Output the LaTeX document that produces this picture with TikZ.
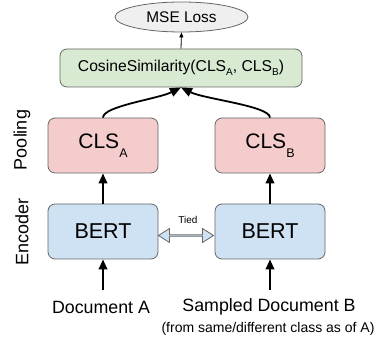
\documentclass[tikz,border=0pt]{standalone}
\usepackage{fontspec}
\setmainfont{Liberation Sans}
\usetikzlibrary{arrows.meta,shapes.geometric,shapes.arrows}
\definecolor{edgegray}{HTML}{666666}
\definecolor{lossfill}{HTML}{EFEFEF}
\definecolor{cosfill}{HTML}{D9EAD3}
\definecolor{clsfill}{HTML}{F4CCCC}
\definecolor{bertfill}{HTML}{CFE2F3}
\newcommand\fsz[1]{\fontsize{#1}{#1}\selectfont}
\newcommand\lowsub[3]{\raisebox{#2}{\fsz{#1}#3}}
\tikzset{
  box/.style={draw=edgegray, line width=0.8pt, rounded corners=7pt, inner sep=0pt},
  clsbox/.style={box, fill=clsfill, minimum width=110pt, minimum height=55pt, font=\fsz{21}},
  bertbox/.style={box, fill=bertfill, minimum width=110pt, minimum height=55pt, font=\fsz{21.5}},
  thickarrow/.style={line width=2pt, -{Triangle[length=10pt,width=8.5pt]}},
  curvearrow/.style={line width=1.8pt, -{Triangle[length=11pt,width=9pt]}},
  sidelabel/.style={rotate=90, font=\fsz{18}, inner sep=0pt},
  doclabel/.style={font=\fsz{17.8}, inner sep=0pt}
}
\begin{document}
\begin{tikzpicture}[x=1pt,y=1pt]
\useasboundingbox (0,0) rectangle (381,343);
% nodes
\node[ellipse, draw=edgegray, line width=0.8pt, fill=lossfill, minimum width=133pt, minimum height=30pt, inner sep=0pt, font=\fsz{15.4}] (loss) at (181.5,326) {MSE Loss};
\node[box, fill=cosfill, minimum width=242pt, minimum height=38pt, font=\fsz{15.7}] (cos) at (181,275)
  {CosineSimilarity(CLS\lowsub{10}{-0.28em}{A}, CLS\lowsub{10}{-0.28em}{B})};
\node[clsbox] (clsA) at (103,197.5) {CLS\lowsub{12.5}{-0.42em}{A}};
\node[clsbox] (clsB) at (270,197.5) {CLS\lowsub{12.5}{-0.42em}{B}};
\node[bertbox] (bertA) at (103,111.5) {BERT};
\node[bertbox] (bertB) at (270,111.5) {BERT};
\node[double arrow, draw=edgegray, line width=0.8pt, fill=bertfill, minimum height=55pt, minimum width=14pt,
  double arrow head extend=3.5pt, double arrow tip angle=65, inner sep=0pt] (tied) at (186,107.5) {};
\node[font=\fsz{10}, inner sep=0pt] (tiedlbl) at (188,123) {Tied};
\node[doclabel] (docA) at (101,36) {Document A};
\node[doclabel] (docB) at (269,36) {Sampled Document B};
\node[font=\fsz{14}, inner sep=0pt] (docBnote) at (268,14) {(from same/different class as of A)};
\node[sidelabel] (pool) at (22,203) {Pooling};
\node[sidelabel] (enc) at (22,111) {Encoder};
% connectors
\coordinate (docAtop) at (103,53);
\coordinate (docBtop) at (270,53);
\draw[thickarrow] (docAtop) -- (bertA.south);
\draw[thickarrow] (docBtop) -- (bertB.south);
\draw[thickarrow] (bertA.north) -- (clsA.south);
\draw[thickarrow] (bertB.north) -- (clsB.south);
\draw[curvearrow] (clsA.north) .. controls (103,237) and (158,244) .. (cos.south);
\draw[curvearrow] (clsB.north) .. controls (270,237) and (204,244) .. (cos.south);
\draw[line width=0.8pt, -{Triangle[length=5pt,width=4pt]}] (cos.north) -- (loss.south);
\end{tikzpicture}
\end{document}
